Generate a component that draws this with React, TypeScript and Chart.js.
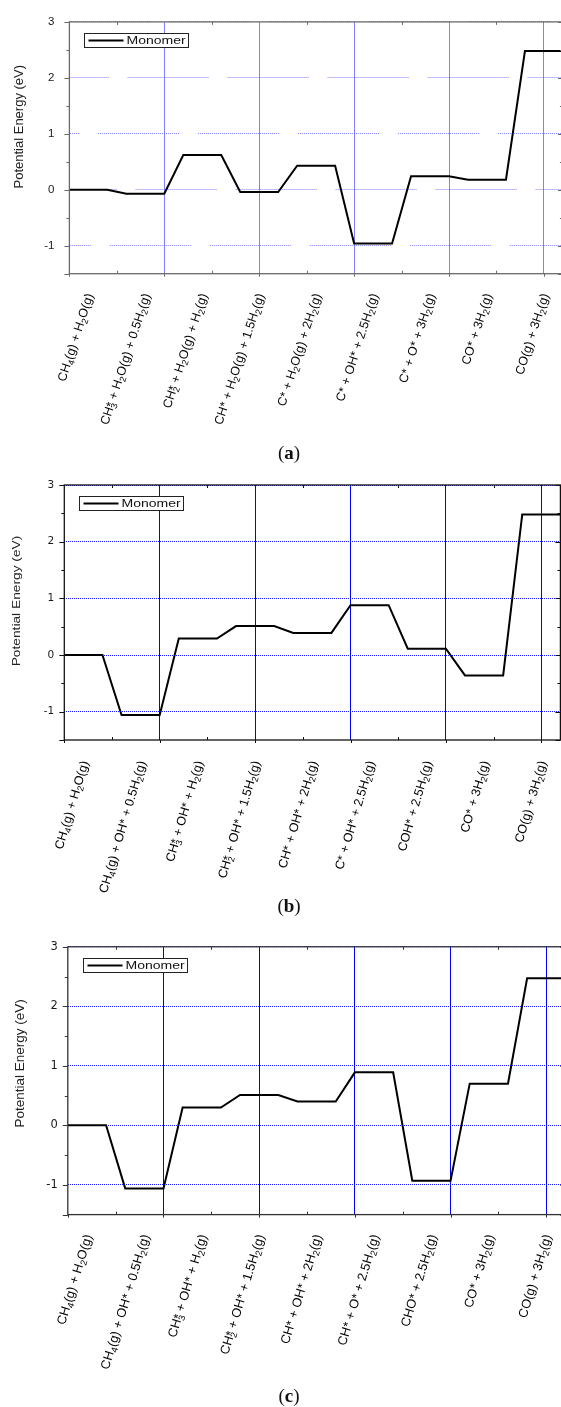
import React, { useEffect, useRef } from "react";
import { Chart, registerables } from "chart.js";

Chart.register(...registerables);

// ---------------- data ----------------
const seriesLabel = "Monomer";
const yAxisTitle = "Potential Energy (eV)";
const xMin = 0;
const xMax = 26;
const yMin = -1.5;
const yMax = 3;
const yMajorTicks = [-1, 0, 1, 2, 3];
const yMinorTicks = [-0.5, 0.5, 1.5, 2.5];
const xMajorTicks = [5, 10, 15, 20, 25];
const xMinorTicks = [2.5, 7.5, 12.5, 17.5, 22.5];
const levelStep = 3; // x-distance between the starts of two successive states
const levelWidth = 2; // length of the flat segment of one state

const statesA = [
  "CH_4(g) + H_2O(g)",
  "CH_3* + H_2O(g) + 0.5H_2(g)",
  "CH_2* + H_2O(g) + H_2(g)",
  "CH* + H_2O(g) + 1.5H_2(g)",
  "C* + H_2O(g) + 2H_2(g)",
  "C* + OH* + 2.5H_2(g)",
  "C* + O* + 3H_2(g)",
  "CO* + 3H_2(g)",
  "CO(g) + 3H_2(g)",
];
const energiesA = [0, -0.07, 0.62, -0.04, 0.43, -0.96, 0.24, 0.18, 2.48];

const statesB = [
  "CH_4(g) + H_2O(g)",
  "CH_4(g) + OH* + 0.5H_2(g)",
  "CH_3* + OH* + H_2(g)",
  "CH_2* + OH* + 1.5H_2(g)",
  "CH* + OH* + 2H_2(g)",
  "C* + OH* + 2.5H_2(g)",
  "COH* + 2.5H_2(g)",
  "CO* + 3H_2(g)",
  "CO(g) + 3H_2(g)",
];
const energiesB = [0, -1.06, 0.29, 0.51, 0.39, 0.88, 0.11, -0.36, 2.48];

const statesC = [
  "CH_4(g) + H_2O(g)",
  "CH_4(g) + OH* + 0.5H_2(g)",
  "CH_3* + OH* + H_2(g)",
  "CH_2* + OH* + 1.5H_2(g)",
  "CH* + OH* + 2H_2(g)",
  "CH* + O* + 2.5H_2(g)",
  "CHO* + 2.5H_2(g)",
  "CO* + 3H_2(g)",
  "CO(g) + 3H_2(g)",
];
const energiesC = [0, -1.06, 0.3, 0.51, 0.4, 0.89, -0.93, 0.7, 2.47];

const captionLetters = ["a", "b", "c"];

// ---------------- styles / layout ----------------
const CANVAS_W = 580;
const SANS = '"Liberation Sans", Arial, sans-serif';
const DEJAVU = '"DejaVu Sans", sans-serif';

const brokenDots = Array.from({ length: 40 }, () => [1, 1]).flat().concat([1, 19]);
const brokenOffsets: Record<string, number> = { "-1": 59.2, "0": 33.4, "1": 71, "2": 41.4, "3": 0 };

type PanelStyle = {
  canvasTop: number;
  canvasH: number;
  left: number;
  top: number;
  right: number;
  bottom: number;
  frameColor: string;
  frameWidth: number;
  vGrid: string;
  hGrid: string;
  broken: boolean;
  tickFamily: string;
  tickSize: number;
  tickPad: number;
  titleX: number;
  titleY: number;
  titleSize: number;
  titleStretch: number;
  labelSize: number;
  labelAngle: number;
  labelGap: number;
  captionY: number;
};

const panelStyles: PanelStyle[] = [
  {
    canvasTop: 0, canvasH: 460, left: 69.4, top: 15.7, right: 562.9, bottom: 273.7,
    frameColor: "#6a6a6a", frameWidth: 1.3,
    vGrid: "rgba(95,95,255,0.8)", hGrid: "rgba(110,110,255,0.85)", broken: true,
    tickFamily: SANS, tickSize: 11.5, tickPad: 15,
    titleX: 19.2, titleY: 126.7, titleSize: 13, titleStretch: 1,
    labelSize: 12.5, labelAngle: 72, labelGap: 20, captionY: 453,
  },
  {
    canvasTop: 460, canvasH: 460, left: 64.3, top: 25, right: 560.4, bottom: 280,
    frameColor: "#111", frameWidth: 1.3,
    vGrid: "#0000ff", hGrid: "#1a1aff", broken: false,
    tickFamily: DEJAVU, tickSize: 10.5, tickPad: 10,
    titleX: 16.7, titleY: 141, titleSize: 11, titleStretch: 1.25,
    labelSize: 12.5, labelAngle: 73.5, labelGap: 21, captionY: 906,
  },
  {
    canvasTop: 920, canvasH: 487, left: 67.8, top: 26.8, right: 565.4, bottom: 294.6,
    frameColor: "#333", frameWidth: 1.3,
    vGrid: "#0000ff", hGrid: "#1a1aff", broken: false,
    tickFamily: DEJAVU, tickSize: 11.5, tickPad: 10,
    titleX: 20.5, titleY: 143.3, titleSize: 13.5, titleStretch: 1,
    labelSize: 12.8, labelAngle: 73, labelGap: 20, captionY: 1396,
  },
];

// ---------------- rich text (sub/superscripts) ----------------
type Tok = { t: string; k: "n" | "sub" | "over" };
function parseRich(s: string): Tok[] {
  const toks: Tok[] = [];
  for (let i = 0; i < s.length; i++) {
    const c = s[i];
    if (c === "_" && i + 1 < s.length) {
      toks.push({ t: s[i + 1], k: "sub" });
      i++;
      continue;
    }
    if (c === "*" && toks.length && toks[toks.length - 1].k === "sub") {
      toks.push({ t: "*", k: "over" });
      continue;
    }
    toks.push({ t: c, k: "n" });
  }
  return toks;
}

function drawRich(ctx: CanvasRenderingContext2D, s: string, ax: number, ay: number, F: number, angleDeg: number) {
  const toks = parseRich(s);
  const nf = `${F}px ${SANS}`;
  const sf = `${(F * 0.72).toFixed(2)}px ${SANS}`;
  const pos: number[] = [];
  let w = 0;
  let lastSubX = 0;
  for (const t of toks) {
    if (t.k === "over") {
      ctx.font = nf;
      const sw = ctx.measureText("*").width;
      pos.push(lastSubX);
      w = Math.max(w, lastSubX + sw);
      continue;
    }
    ctx.font = t.k === "sub" ? sf : nf;
    const tw = ctx.measureText(t.t).width;
    pos.push(w);
    if (t.k === "sub") lastSubX = w;
    w += tw;
  }
  ctx.save();
  ctx.translate(ax, ay);
  ctx.rotate((-angleDeg * Math.PI) / 180);
  ctx.textAlign = "left";
  ctx.textBaseline = "alphabetic";
  const base = F * 0.35;
  toks.forEach((t, i) => {
    const x = -w + pos[i];
    if (t.k === "sub") {
      ctx.font = sf;
      ctx.fillText(t.t, x, base + F * 0.22);
    } else {
      ctx.font = nf;
      ctx.fillText(t.t, x, base);
    }
  });
  ctx.restore();
}

// ---------------- decoration plugin ----------------
function makeDecor(st: PanelStyle, states: string[]) {
  return {
    id: "decor",
    afterDraw(chart: any) {
      const ctx: CanvasRenderingContext2D = chart.ctx;
      const { left, top, right, bottom } = chart.chartArea;
      const xs = chart.scales.x;
      const ys = chart.scales.y;
      ctx.save();

      // ticks
      ctx.strokeStyle = st.frameColor;
      ctx.lineWidth = 1;
      ctx.beginPath();
      for (const v of [yMin, ...yMajorTicks]) {
        const y = Math.round(ys.getPixelForValue(v)) + 0.5;
        ctx.moveTo(left - 5, y);
        ctx.lineTo(left, y);
        ctx.moveTo(right, y);
        ctx.lineTo(right - 5, y);
      }
      for (const v of yMinorTicks) {
        const y = Math.round(ys.getPixelForValue(v)) + 0.5;
        ctx.moveTo(left - 3, y);
        ctx.lineTo(left, y);
        ctx.moveTo(right, y);
        ctx.lineTo(right - 3, y);
      }
      for (const v of xMinorTicks) {
        const x = Math.round(xs.getPixelForValue(v)) + 0.5;
        ctx.moveTo(x, bottom);
        ctx.lineTo(x, bottom - 3);
        ctx.moveTo(x, top);
        ctx.lineTo(x, top + 3);
      }
      for (const v of [xMin, ...xMajorTicks]) {
        const x = Math.round(xs.getPixelForValue(v)) + 0.5;
        ctx.moveTo(x, bottom);
        ctx.lineTo(x, bottom + 3);
      }
      ctx.stroke();

      // frame
      ctx.lineWidth = st.frameWidth;
      ctx.strokeRect(left, top, right - left, bottom - top);

      // legend
      const bx = Math.round(left + 15) + 0.5;
      const by = Math.round(top + 11) + 0.5;
      const bw = 104;
      const bh = 14;
      ctx.fillStyle = "#fff";
      ctx.fillRect(bx, by, bw, bh);
      ctx.lineWidth = 1;
      ctx.strokeStyle = "#222";
      ctx.strokeRect(bx, by, bw, bh);
      ctx.lineWidth = 2;
      ctx.strokeStyle = "#000";
      ctx.beginPath();
      ctx.moveTo(bx + 4, by + bh / 2);
      ctx.lineTo(bx + 39, by + bh / 2);
      ctx.stroke();
      ctx.save();
      ctx.translate(bx + 42, by + bh / 2 + 0.5);
      ctx.scale(1.22, 1);
      ctx.fillStyle = "#111";
      ctx.font = `11.5px ${SANS}`;
      ctx.textAlign = "left";
      ctx.textBaseline = "middle";
      ctx.fillText(chart.data.datasets[0].label, 0, 0);
      ctx.restore();

      // y-axis title
      ctx.save();
      ctx.translate(st.titleX, st.titleY);
      ctx.rotate(-Math.PI / 2);
      ctx.scale(st.titleStretch, 1);
      ctx.fillStyle = "#222";
      ctx.font = `${st.titleSize}px ${SANS}`;
      ctx.textAlign = "center";
      ctx.textBaseline = "middle";
      ctx.fillText(yAxisTitle, 0, 0);
      ctx.restore();

      // state labels under the x axis
      ctx.fillStyle = "#000";
      states.forEach((s, i) => {
        const x = xs.getPixelForValue(i * levelStep + levelWidth / 2) + 1;
        drawRich(ctx, s, x, bottom + st.labelGap, st.labelSize, st.labelAngle);
      });

      ctx.restore();
    },
  };
}

// ---------------- panel component ----------------
function Panel({ st, states, energies }: { st: PanelStyle; states: string[]; energies: number[] }) {
  const ref = useRef<HTMLCanvasElement | null>(null);
  useEffect(() => {
    if (!ref.current) return;
    const points = energies.flatMap((v, i) => [
      { x: i * levelStep, y: v },
      { x: i * levelStep + levelWidth, y: v },
    ]);
    const chart = new Chart(ref.current, {
      type: "line",
      data: {
        datasets: [
          {
            label: seriesLabel,
            data: points,
            borderColor: "#000",
            borderWidth: 2,
            pointRadius: 0,
            tension: 0,
            fill: false,
          },
        ],
      },
      options: {
        animation: false,
        responsive: false,
        devicePixelRatio: 1,
        layout: { padding: { left: 0, top: st.top, right: CANVAS_W - st.right, bottom: 0 } },
        plugins: { legend: { display: false }, tooltip: { enabled: false } },
        scales: {
          x: {
            type: "linear",
            min: xMin,
            max: xMax,
            afterBuildTicks: (s: any) => {
              s.ticks = xMajorTicks.map((v) => ({ value: v }));
            },
            afterFit: (s: any) => {
              s.height = st.canvasH - st.bottom;
            },
            ticks: { display: false },
            grid: { color: st.vGrid, lineWidth: 1, drawTicks: false },
            border: { display: false },
          },
          y: {
            type: "linear",
            min: yMin,
            max: yMax,
            afterBuildTicks: (s: any) => {
              s.ticks = yMajorTicks.map((v) => ({ value: v }));
            },
            afterFit: (s: any) => {
              s.width = st.left;
            },
            ticks: {
              color: "#1a1a1a",
              padding: st.tickPad,
              font: { family: st.tickFamily, size: st.tickSize },
              callback: (v: any) => String(v),
            },
            grid: { color: st.hGrid, lineWidth: 1, drawTicks: false },
            border: {
              display: false,
              dash: (c: any) => (st.broken ? brokenDots : [1, 1]),
              dashOffset: (c: any) =>
                st.broken && c.tick ? brokenOffsets[String(c.tick.value)] ?? 0 : 0,
            },
          },
        },
      } as any,
      plugins: [makeDecor(st, states)],
    });
    return () => chart.destroy();
  }, [st, states, energies]);
  return (
    <canvas
      ref={ref}
      width={CANVAS_W}
      height={st.canvasH}
      style={{ position: "absolute", left: 0, top: st.canvasTop, display: "block" }}
    />
  );
}

const panelData = [
  { states: statesA, energies: energiesA },
  { states: statesB, energies: energiesB },
  { states: statesC, energies: energiesC },
];

export default function App() {
  return (
    <div
      style={{
        position: "absolute",
        left: 0,
        top: 0,
        width: 561,
        height: 1407,
        overflow: "hidden",
        background: "#fff",
      }}
    >
      {panelStyles.map((st, i) => (
        <React.Fragment key={i}>
          <Panel st={st} states={panelData[i].states} energies={panelData[i].energies} />
          <div
            style={{
              position: "absolute",
              left: 239,
              width: 100,
              top: st.captionY - 12,
              height: 24,
              lineHeight: "24px",
              textAlign: "center",
              fontFamily: '"Liberation Serif", "Times New Roman", serif',
              fontSize: 19,
              color: "#111",
            }}
          >
            (<b>{captionLetters[i]}</b>)
          </div>
        </React.Fragment>
      ))}
    </div>
  );
}
